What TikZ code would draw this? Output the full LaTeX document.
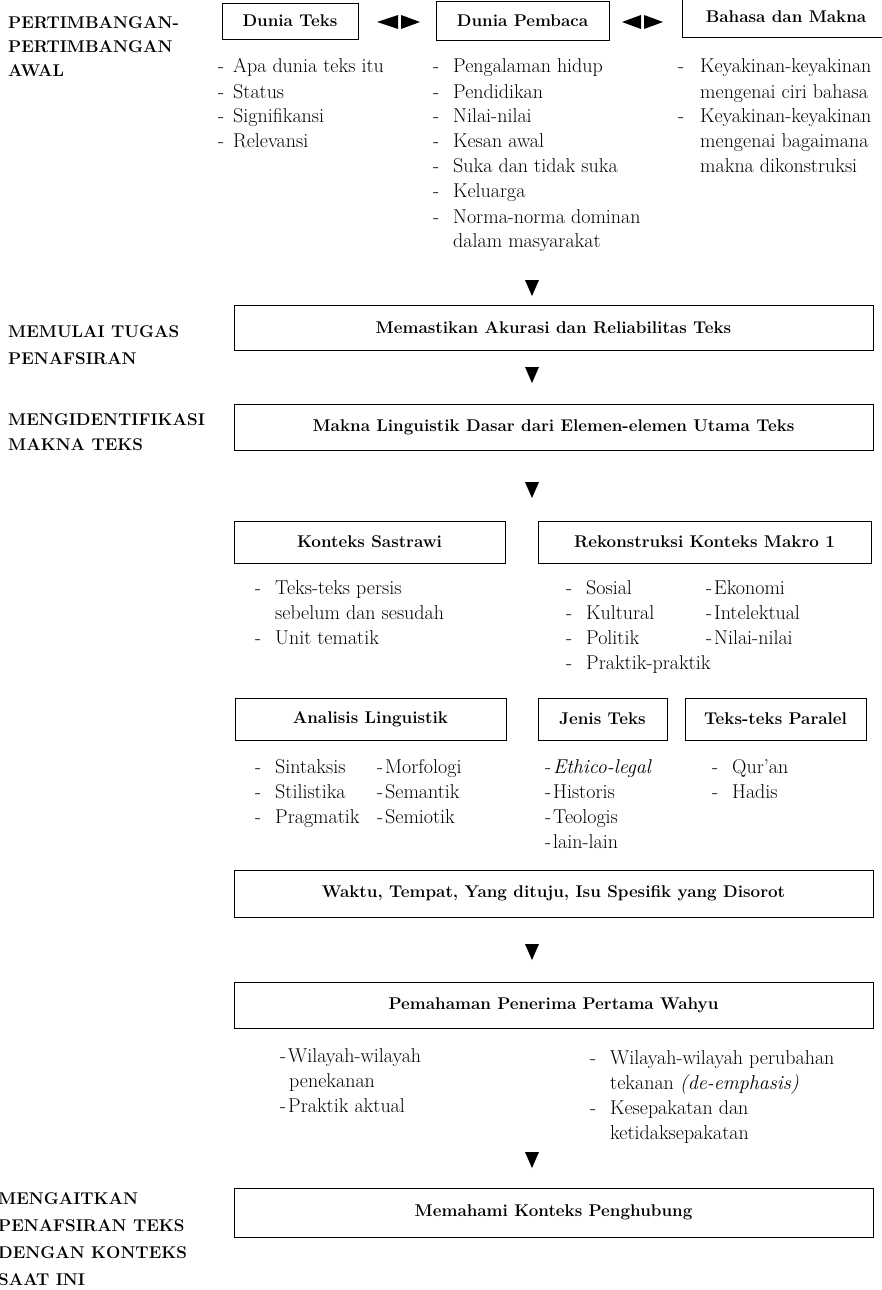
\documentclass[tikz,border=0pt]{standalone}
\usepackage{fontspec}
\newcommand{\Li}[2]{\makebox[#1][l]{-}#2}
\tikzset{
  box/.style={draw, line width=0.9pt, inner sep=0pt, align=center,
    font=\bfseries\fontsize{17}{20}\selectfont},
  lst/.style={inner sep=0pt, anchor=base west, font=\fontsize{20}{25}\selectfont},
  lbl/.style={inner sep=0pt, anchor=base west, font=\bfseries\fontsize{17}{#1}\selectfont},
  tri/.style={fill=black},
}
\begin{document}
\begin{tikzpicture}[x=1pt,y=-1pt]
\useasboundingbox (0,0) rectangle (882,1290);

% ---------- left labels ----------
\node[lbl=24] (l1) at (8,29) {\begin{tabular}[t]{@{}l@{}}PERTIMBANGAN-\\PERTIMBANGAN\\AWAL\end{tabular}};
\node[lbl=27] (l2) at (8,337) {\begin{tabular}[t]{@{}l@{}}MEMULAI TUGAS\\PENAFSIRAN\end{tabular}};
\node[lbl=25] (l3) at (8,425) {\begin{tabular}[t]{@{}l@{}}MENGIDENTIFIKASI\\MAKNA TEKS\end{tabular}};
\node[lbl=27] (l4) at (-2,1204) {\begin{tabular}[t]{@{}l@{}}MENGAITKAN\\PENAFSIRAN TEKS\\DENGAN KONTEKS\\SAAT INI\end{tabular}};

% ---------- top boxes ----------
\node[box, minimum width=136pt, minimum height=36pt] (dteks) at (290,21) {Dunia Teks};
\node[box, minimum width=173pt, minimum height=39pt] (dpemb) at (522.5,20.5) {Dunia Pembaca};
\node[box, minimum width=208pt, minimum height=40pt] (bahasa) at (786,17) {Bahasa dan Makna};

\fill[tri] (377,22) -- (398,15) -- (398,29) -- cycle;
\fill[tri] (401,15) -- (420,22) -- (401,29) -- cycle;
\fill[tri] (622,22) -- (641,15) -- (641,29) -- cycle;
\fill[tri] (644,15) -- (663,22) -- (644,29) -- cycle;

\node[lst] (dteksl) at (218,73) {\begin{tabular}[t]{@{}l@{}}
\Li{15pt}{Apa dunia teks itu}\\
\Li{15pt}{Status}\\
\Li{15pt}{Signifikansi}\\
\Li{15pt}{Relevansi}\end{tabular}};

\node[lst] (dpembl) at (433,73) {\begin{tabular}[t]{@{}l@{}}
\Li{20pt}{Pengalaman hidup}\\
\Li{20pt}{Pendidikan}\\
\Li{20pt}{Nilai-nilai}\\
\Li{20pt}{Kesan awal}\\
\Li{20pt}{Suka dan tidak suka}\\
\Li{20pt}{Keluarga}\\
\Li{20pt}{Norma-norma dominan}\\
\hspace*{20pt}dalam masyarakat\end{tabular}};

\node[lst] (bahasal) at (678,73) {\begin{tabular}[t]{@{}l@{}}
\Li{22pt}{Keyakinan-keyakinan}\\
\hspace*{22pt}mengenai ciri bahasa\\
\Li{22pt}{Keyakinan-keyakinan}\\
\hspace*{22pt}mengenai bagaimana\\
\hspace*{22pt}makna dikonstruksi\end{tabular}};

% ---------- main column ----------
\fill[tri] (525,280) -- (539,280) -- (532,296) -- cycle;
\node[box, minimum width=639pt, minimum height=45pt] (akurasi) at (553.5,327.5) {Memastikan Akurasi dan Reliabilitas Teks};
\fill[tri] (525,367) -- (539,367) -- (532,383) -- cycle;
\node[box, minimum width=639pt, minimum height=46pt] (makna) at (553.5,427) {Makna Linguistik Dasar dari Elemen-elemen Utama Teks};
\fill[tri] (525,482) -- (539,482) -- (532,498) -- cycle;

\node[box, minimum width=271pt, minimum height=42pt] (sastra) at (369.5,542) {Konteks Sastrawi};
\node[box, minimum width=333pt, minimum height=42pt] (makro) at (704.5,542) {Rekonstruksi Konteks Makro 1};

\node[lst] (sastral) at (255,594) {\begin{tabular}[t]{@{}l@{}}
\Li{20pt}{Teks-teks persis}\\
\hspace*{20pt}sebelum dan sesudah\\
\Li{20pt}{Unit tematik}\end{tabular}};

\node[lst] (makrol) at (566,594) {\begin{tabular}[t]{@{}l@{}}
\Li{20pt}{Sosial}\\
\Li{20pt}{Kultural}\\
\Li{20pt}{Politik}\\
\Li{20pt}{Praktik-praktik}\end{tabular}};
\node[lst] (makrol2) at (706,594) {\begin{tabular}[t]{@{}l@{}}
\Li{8pt}{Ekonomi}\\
\Li{8pt}{Intelektual}\\
\Li{8pt}{Nilai-nilai}\end{tabular}};

\node[box, minimum width=271pt, minimum height=42pt] (ling) at (370.5,719) {Analisis Linguistik};
\node[box, minimum width=129pt, minimum height=42pt] (jenis) at (602.5,719) {Jenis Teks};
\node[box, minimum width=181pt, minimum height=42pt] (paralel) at (775.5,719) {Teks-teks Paralel};

\node[lst] (lingl) at (255,773) {\begin{tabular}[t]{@{}l@{}}
\Li{20pt}{Sintaksis}\\
\Li{20pt}{Stilistika}\\
\Li{20pt}{Pragmatik}\end{tabular}};
\node[lst] (lingl2) at (377,773) {\begin{tabular}[t]{@{}l@{}}
\Li{8pt}{Morfologi}\\
\Li{8pt}{Semantik}\\
\Li{8pt}{Semiotik}\end{tabular}};
\node[lst] (jenisl) at (545,773) {\begin{tabular}[t]{@{}l@{}}
\Li{8pt}{\textit{Ethico-legal}}\\
\Li{8pt}{Historis}\\
\Li{8pt}{Teologis}\\
\Li{8pt}{lain-lain}\end{tabular}};
\node[lst] (paralell) at (712,773) {\begin{tabular}[t]{@{}l@{}}
\Li{20pt}{Qur’an}\\
\Li{20pt}{Hadis}\end{tabular}};

\node[box, minimum width=639pt, minimum height=47pt] (waktu) at (553.5,893.5) {Waktu, Tempat, Yang dituju, Isu Spesifik yang Disorot};
\fill[tri] (525,944) -- (539,944) -- (532,960) -- cycle;
\node[box, minimum width=639pt, minimum height=46pt] (pemahaman) at (553.5,1005) {Pemahaman Penerima Pertama Wahyu};

\node[lst] (peml) at (280,1062) {\begin{tabular}[t]{@{}l@{}}
\Li{8pt}{Wilayah-wilayah}\\
\hspace*{9pt}penekanan\\
\Li{8pt}{Praktik aktual}\end{tabular}};
\node[lst] (pemr) at (590,1064) {\begin{tabular}[t]{@{}l@{}}
\Li{20pt}{Wilayah-wilayah perubahan}\\
\hspace*{20pt}tekanan \textit{(de-emphasis)}\\
\Li{20pt}{Kesepakatan dan}\\
\hspace*{20pt}ketidaksepakatan\end{tabular}};

\fill[tri] (525,1152) -- (539,1152) -- (532,1168) -- cycle;
\node[box, minimum width=639pt, minimum height=49pt] (memahami) at (553.5,1212.5) {Memahami Konteks Penghubung};
\end{tikzpicture}
\end{document}
